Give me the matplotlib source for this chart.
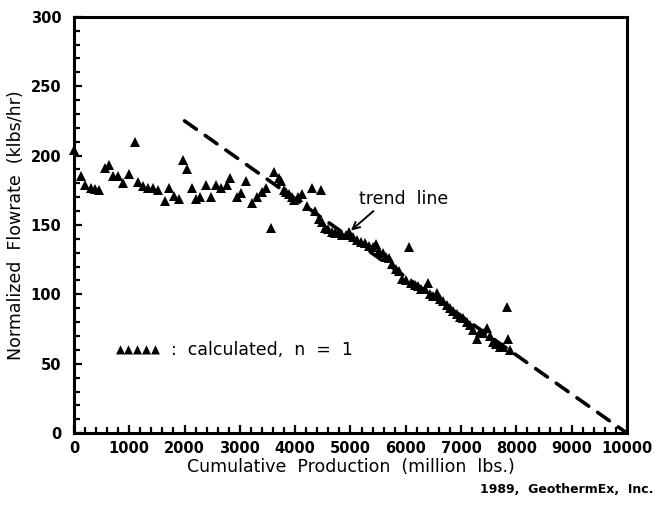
import matplotlib
matplotlib.use("Agg")
import matplotlib.pyplot as plt
from matplotlib.ticker import MultipleLocator

# calculated flowrate points (cumulative production in million lbs, flowrate in klbs/hr)
prod = [
    0, 127, 200, 309, 381, 454, 563, 635, 708, 799, 889, 998, 1107, 1162,
    1252, 1343, 1434, 1525, 1652, 1724, 1815, 1906, 1978, 2050, 2142, 2214,
    2287, 2396, 2486, 2577, 2668, 2759, 2831, 2940, 3013, 3103, 3212, 3303,
    3394, 3466, 3557, 3612, 3702, 3740, 3793, 3830, 3884, 3938, 3975, 4050,
    4120, 4211, 4301, 4360, 4430, 4465, 4483, 4540, 4600, 4660, 4720, 4780,
    4850, 4920, 4980, 5050, 5120, 5190, 5260, 5330, 5400, 5470, 5520, 5580,
    5640, 5700, 5760, 5820, 5880, 5940, 6000, 6060, 6100, 6160, 6220, 6280,
    6340, 6400, 6440, 6500, 6560, 6620, 6680, 6740, 6800, 6860, 6920, 6980,
    7040, 7100, 7160, 7220, 7280, 7340, 7400, 7460, 7520, 7580, 7640, 7700,
    7760, 7822, 7840, 7880,
]
flow = [
    204, 185, 179, 177, 176, 175, 191, 193, 185, 185, 180, 187, 210, 181,
    178, 177, 177, 175, 167, 177, 171, 169, 197, 190, 177, 169,
    170, 179, 170, 179, 177, 179, 184, 170, 173, 182, 166, 170,
    174, 177, 148, 188, 184, 182, 175, 174, 172, 170, 168, 170,
    172, 164, 177, 160, 154, 175, 152, 148, 147, 145, 144, 144,
    143, 143, 145, 141, 139, 138, 137, 135, 134, 136, 131, 130,
    127, 126, 122, 118, 117, 111, 110, 134, 108, 107, 106, 104,
    104, 108, 100, 99, 101, 97, 95, 92, 90, 88, 86, 84,
    83, 80, 78, 74, 68, 73, 72, 76, 70, 66, 64, 62,
    62, 91, 68, 60,
]

# trend line end points
trend_x = [2000, 10000]
trend_y = [225, 0]

fig = plt.figure(figsize=(6.6, 5.09), dpi=100)
ax = fig.add_axes([0.112, 0.149, 0.838, 0.818])

ax.plot(prod, flow, linestyle="none", marker="^", markersize=6.5,
        color="black", markeredgewidth=0, clip_on=False)
ax.plot(trend_x, trend_y, color="black", linewidth=2.6, dashes=(4, 3),
        dash_capstyle="round")

ax.set_xlim(0, 10000)
ax.set_ylim(0, 300)
ax.xaxis.set_major_locator(MultipleLocator(1000))
ax.xaxis.set_minor_locator(MultipleLocator(200))
ax.yaxis.set_major_locator(MultipleLocator(50))
ax.yaxis.set_minor_locator(MultipleLocator(10))

for s in ax.spines.values():
    s.set_linewidth(2.2)

ax.tick_params(which="both", direction="in", top=False, right=False,
               width=1.6, color="black")
ax.tick_params(which="major", length=6, labelsize=10.5)
ax.tick_params(axis="y", which="major", pad=9)
ax.tick_params(axis="x", which="major", pad=6)
ax.tick_params(which="minor", length=4)
for lab in ax.get_xticklabels() + ax.get_yticklabels():
    lab.set_fontweight("bold")

ax.set_xlabel("Cumulative  Production  (million  lbs.)", fontsize=12.5,
              labelpad=1)
ax.set_ylabel("Normalized  Flowrate  (klbs/hr)", fontsize=12.5, labelpad=4)

# legend-like note
ax.text(760, 60, "\u25b2\u25b2\u25b2\u25b2\u25b2", fontsize=8.5,
        va="center", ha="left")
ax.text(1750, 60, ":  calculated,  n  =  1", fontsize=12.5,
        va="center", ha="left")

ax.annotate("trend  line", xy=(5009, 146), xytext=(5150, 162),
            fontsize=12.5, ha="left", va="bottom",
            arrowprops=dict(arrowstyle="->", color="black", lw=1.4,
                            shrinkA=0, shrinkB=0,
                            relpos=(0.2, 0.0)))

fig.text(0.99, 0.025, "1989,  GeothermEx,  Inc.", fontsize=9,
         fontweight="bold", ha="right", va="bottom")

fig.savefig("out.png", dpi=100)
